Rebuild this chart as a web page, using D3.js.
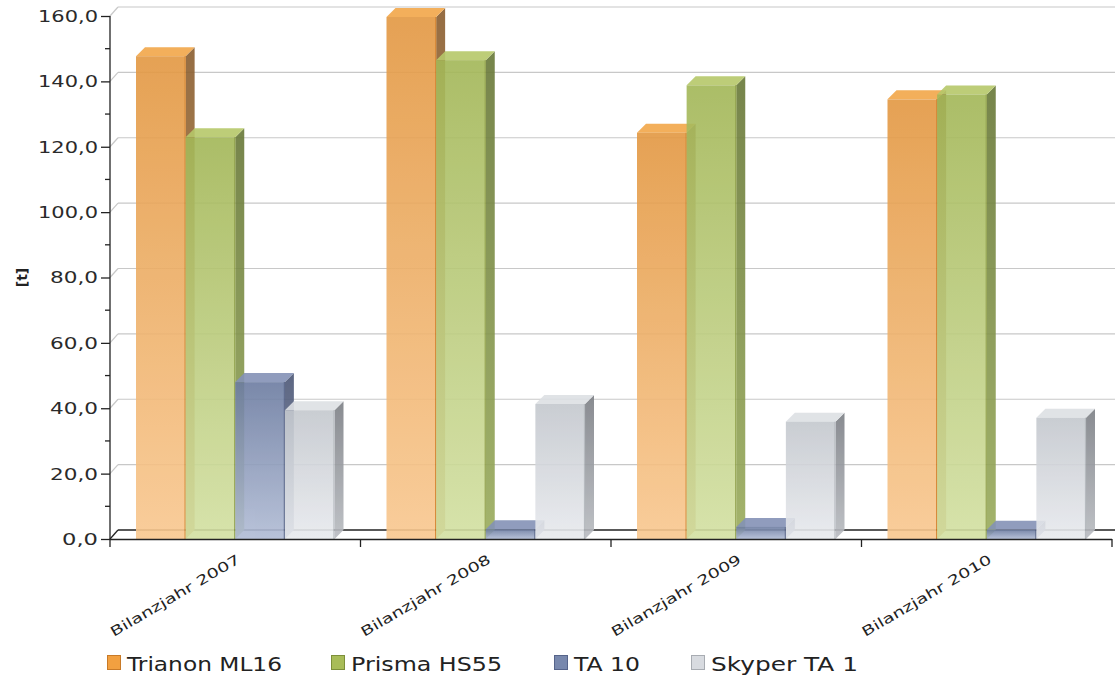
<!DOCTYPE html>
<html>
<head>
<meta charset="utf-8">
<script src="https://cdn.jsdelivr.net/npm/d3@7"></script>
<style>
  html, body { margin: 0; padding: 0; background: #fff; }
  svg { display: block; }
  text { font-family: "DejaVu Sans", Verdana, sans-serif; }
</style>
</head>
<body>
<svg id="chart" width="1115" height="679"></svg>
<script>
// Tonnage per balance year, four product series
const categories = ["Bilanzjahr 2007", "Bilanzjahr 2008", "Bilanzjahr 2009", "Bilanzjahr 2010"];
const seriesNames = ["Trianon ML16", "Prisma HS55", "TA 10", "Skyper TA 1"];
const trianon = [147.7, 159.7, 124.3, 134.5];
const prisma  = [122.9, 146.5, 138.8, 136.0];
const ta10    = [48.0, 3.0, 3.7, 2.8];
const skyper  = [39.4, 41.3, 35.9, 37.1];
const yTicks  = [0, 20, 40, 60, 80, 100, 120, 140, 160];
const yMinor  = [10, 30, 50, 70, 90, 110, 130, 150];

const seriesValues = [trianon, prisma, ta10, skyper];

// Face palettes: front gradient (top, bottom), top face, side gradient, edge
const palette = [
  { front: ["#e39842", "#f9c890"], top: "#f2a74a", side: ["#8a5e2f", "#c28a52"], edge: "#d27d24", legend: "#f2a040", legendStroke: "#c87a28" },
  { front: ["#a3b757", "#d3e0a2"], top: "#b6c86a", side: ["#687838", "#9aac5c"], edge: "#88993e", legend: "#a8bc58", legendStroke: "#7d8f3a" },
  { front: ["#6c7ca1", "#b1bcd5"], top: "#8492b6", side: ["#4b5675", "#7e8aa8"], edge: "#4f5d82", legend: "#7888ad", legendStroke: "#56648a" },
  { front: ["#c4c8ce", "#e8eaee"], top: "#dde0e4", side: ["#7c7f85", "#b9bcc1"], edge: "#b0b4ba", legend: "#d8dbe0", legendStroke: "#a8acb2" }
];

const svg = d3.select("#chart");
const W = 1115, H = 679;

// Front plane of the plot and the depth offset of the back wall
const left = 110, right = 1112, baseY = 539, topY = 16;
const depthX = 8, depthY = 9;
const barDX = 9, barDY = 9;

const x0 = d3.scaleBand().domain(categories).range([left, right]).paddingInner(0).paddingOuter(0);
const x1 = d3.scaleBand().domain(seriesNames).range([26, x0.bandwidth() - 26]);
const y = d3.scaleLinear().domain([0, 160]).range([baseY, topY]);

const defs = svg.append("defs");
palette.forEach((p, i) => {
  const gf = defs.append("linearGradient").attr("id", "front" + i).attr("x1", 0).attr("y1", 0).attr("x2", 0).attr("y2", 1);
  gf.append("stop").attr("offset", "0%").attr("stop-color", p.front[0]);
  gf.append("stop").attr("offset", "100%").attr("stop-color", p.front[1]);
  const gs = defs.append("linearGradient").attr("id", "side" + i).attr("x1", 0).attr("y1", 0).attr("x2", 0).attr("y2", 1);
  gs.append("stop").attr("offset", "0%").attr("stop-color", p.side[0]);
  gs.append("stop").attr("offset", "100%").attr("stop-color", p.side[1]);
});

// Back wall gridlines with diagonal connectors to the front axis
const grid = svg.append("g");
yTicks.forEach(t => {
  const yy = y(t);
  const col = t === 0 ? "#222" : "#c8c8c8";
  const sw = t === 0 ? 1.3 : 1.2;
  grid.append("line").attr("x1", left + depthX).attr("x2", W).attr("y1", yy - depthY).attr("y2", yy - depthY)
    .attr("stroke", col).attr("stroke-width", sw);
  grid.append("line").attr("x1", left).attr("x2", left + depthX).attr("y1", yy).attr("y2", yy - depthY)
    .attr("stroke", col).attr("stroke-width", sw);
});

// 3D bars
const bars = svg.append("g");
categories.forEach((c, ci) => {
  seriesValues.forEach((vals, si) => {
    const v = vals[ci];
    const bx = x0(c) + x1(seriesNames[si]);
    const bw = x1.bandwidth();
    const yt = y(v), yb = y(0);
    const p = palette[si];
    const g = bars.append("g").attr("opacity", 0.9);
    // side face
    g.append("path")
      .attr("d", `M${bx + bw},${yt} L${bx + bw + barDX},${yt - barDY} L${bx + bw + barDX},${yb - barDY} L${bx + bw},${yb} Z`)
      .attr("fill", `url(#side${si})`);
    // top face
    g.append("path")
      .attr("d", `M${bx},${yt} L${bx + barDX},${yt - barDY} L${bx + bw + barDX},${yt - barDY} L${bx + bw},${yt} Z`)
      .attr("fill", p.top);
    // front face
    g.append("rect").attr("x", bx).attr("y", yt).attr("width", bw).attr("height", yb - yt)
      .attr("fill", `url(#front${si})`);
    g.append("line").attr("x1", bx + bw - 0.5).attr("x2", bx + bw - 0.5).attr("y1", yt).attr("y2", yb)
      .attr("stroke", p.edge).attr("stroke-width", 1.2);
  });
});

// Front floor edge and category ticks
const axisG = svg.append("g");
axisG.append("line").attr("x1", left).attr("x2", right).attr("y1", baseY + 0.5).attr("y2", baseY + 0.5)
  .attr("stroke", "#222").attr("stroke-width", 1.3);
const bounds = categories.map(c => x0(c)).concat([right]);
bounds.forEach(bx => {
  axisG.append("line").attr("x1", bx).attr("x2", bx).attr("y1", baseY).attr("y2", baseY + 8)
    .attr("stroke", "#222").attr("stroke-width", 1.3);
});

// Value axis
const fmt = d => d3.format(".1f")(d).replace(".", ",");
const yAxis = d3.axisLeft(y).tickValues(yTicks).tickSize(9).tickPadding(3).tickFormat(fmt);
const ya = svg.append("g").attr("transform", `translate(${left},0)`).call(yAxis);
ya.select(".domain").attr("stroke", "#222").attr("stroke-width", 1.3).attr("d", `M0,${topY}V${baseY}`);
ya.selectAll(".tick line").attr("stroke", "#222").attr("stroke-width", 1.3);
ya.selectAll(".tick text").attr("font-size", 15).attr("fill", "#2a2a2a").attr("font-family", "DejaVu Sans")
  .attr("dy", "0.36em").attr("x", -12)
  .attr("textLength", d => 12 * fmt(d).length).attr("lengthAdjust", "spacingAndGlyphs");
const ym = svg.append("g").attr("transform", `translate(${left},0)`);
yMinor.forEach(t => {
  ym.append("line").attr("x1", -5).attr("x2", 0).attr("y1", y(t)).attr("y2", y(t))
    .attr("stroke", "#222").attr("stroke-width", 1.3);
});

// Axis title
svg.append("text").attr("transform", `translate(27,${(topY + baseY) / 2}) rotate(-90)`)
  .attr("text-anchor", "middle").attr("font-size", 14).attr("font-weight", "bold").attr("fill", "#222")
  .text("[t]");

// Category labels, rotated
categories.forEach(c => {
  const cx = x0(c) + x0.bandwidth() / 2;
  svg.append("text").attr("transform", `translate(${cx + 6},${baseY + 23}) rotate(-30.5)`)
    .attr("text-anchor", "end").attr("font-size", 13.5).attr("fill", "#222")
    .attr("textLength", 148).attr("lengthAdjust", "spacingAndGlyphs")
    .text(c);
});

// Legend
const legendX = [107, 331, 554, 691];
const legendW = [155, 151, 66, 147];
const legend = svg.append("g");
seriesNames.forEach((s, i) => {
  const lx = legendX[i];
  legend.append("rect").attr("x", lx + 0.5).attr("y", 655.5).attr("width", 13).attr("height", 14)
    .attr("fill", palette[i].legend).attr("stroke", palette[i].legendStroke);
  legend.append("text").attr("x", lx + 20).attr("y", 671).attr("font-size", 20)
    .attr("font-family", "DejaVu Sans Condensed, DejaVu Sans").attr("fill", "#222")
    .attr("textLength", legendW[i]).attr("lengthAdjust", "spacingAndGlyphs")
    .text(s);
});
</script>
</body>
</html>
